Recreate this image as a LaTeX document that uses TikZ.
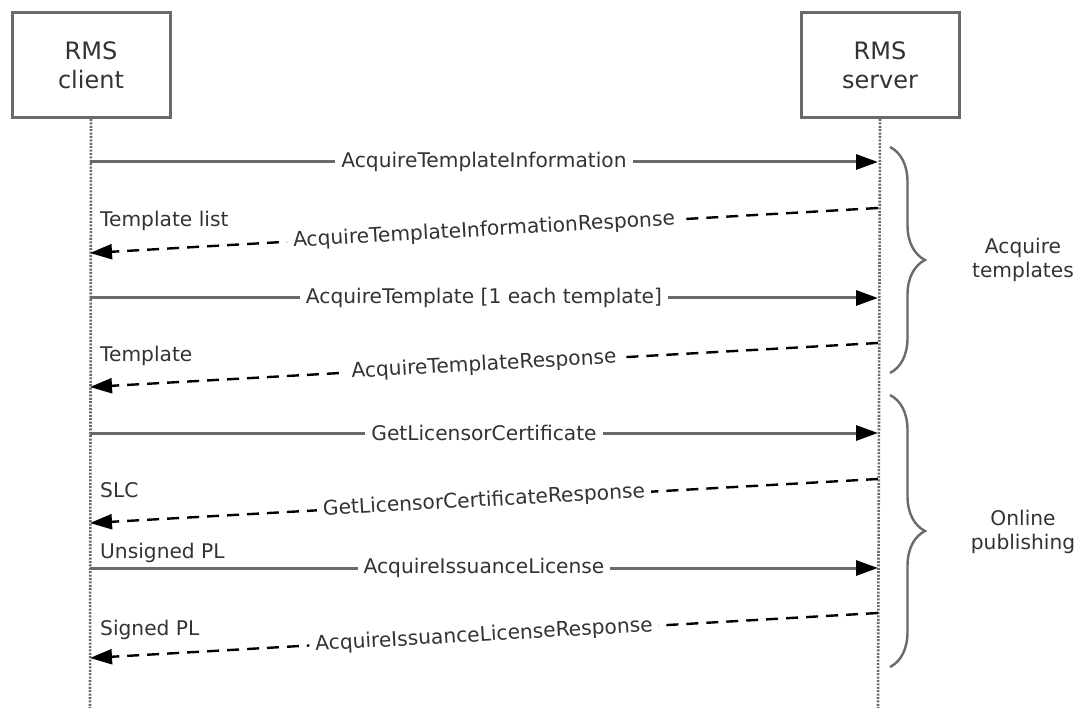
\documentclass[tikz,border=0pt]{standalone}
\usepackage{fontspec}
\setmainfont{DejaVu Sans}
\usetikzlibrary{arrows.meta,decorations.pathreplacing}
\def\msgfont{\fontsize{20.2}{24}\selectfont}
\def\boxfont{\fontsize{24}{29}\selectfont}
\definecolor{linegray}{HTML}{6A6A6A}
\definecolor{textgray}{HTML}{333333}
\tikzset{
    actor/.style={draw=linegray, line width=3pt, fill=white, minimum width=158pt,
        minimum height=105pt, align=center, font=\boxfont, text=textgray},
    lifeline/.style={draw=linegray, line width=2.6pt, dash pattern=on 2pt off 1.4pt},
    call/.style={draw=linegray, line width=3pt,
        -{Triangle[length=22pt,width=15pt,color=black]}},
    reply/.style={draw=black, line width=2.4pt, dash pattern=on 12pt off 8pt,
        -{Triangle[length=22pt,width=15pt,color=black]}},
    lbl/.style={fill=white, font=\msgfont, text=textgray, inner xsep=6pt,
        inner ysep=3pt, sloped},
    note/.style={anchor=base west, font=\msgfont, text=textgray, inner sep=0pt},
    brc/.style={draw=linegray, line width=2.4pt,
        decorate, decoration={brace, amplitude=35pt}},
    group/.style={align=center, font=\msgfont, text=textgray}
}

\begin{document}
\begin{tikzpicture}[x=1pt,y=-1pt]
    \useasboundingbox (0,0) rectangle (1076,708);
    % participants
    \node[actor] (client) at (91,65) {RMS\\client};
    \node[actor] (server) at (880,65) {RMS\\server};
    \coordinate (clientend) at (90,708);
    \coordinate (serverend) at (878,708);
    \draw[lifeline] (client.south) -- (clientend);
    \draw[lifeline] (server.south) -- (serverend);
    % message end points
    \coordinate (c1) at (90,162);  \coordinate (s1) at (878,162);
    \coordinate (s2) at (878,208); \coordinate (c2) at (90,253);
    \coordinate (c3) at (90,298);  \coordinate (s3) at (878,298);
    \coordinate (s4) at (878,343); \coordinate (c4) at (90,387);
    \coordinate (c5) at (90,433);  \coordinate (s5) at (878,433);
    \coordinate (s6) at (878,479); \coordinate (c6) at (90,523);
    \coordinate (c7) at (90,568);  \coordinate (s7) at (878,568);
    \coordinate (s8) at (878,613); \coordinate (c8) at (90,658);
    % acquire templates
    \draw[call] (c1) -- node[lbl] {AcquireTemplateInformation} (s1);
    \draw[reply] (s2) -- node[lbl] {AcquireTemplateInformationResponse} (c2);
    \node[note] (tlist) at (100,227) {Template list};
    \draw[call] (c3) -- node[lbl] {AcquireTemplate [1 each template]} (s3);
    \draw[reply] (s4) -- node[lbl] {AcquireTemplateResponse} (c4);
    \node[note] (tmpl) at (100,362) {Template};
    % online publishing
    \draw[call] (c5) -- node[lbl] {GetLicensorCertificate} (s5);
    \draw[reply] (s6) -- node[lbl] {GetLicensorCertificateResponse} (c6);
    \node[note] (slc) at (100,497) {SLC};
    \draw[call] (c7) -- node[lbl] {AcquireIssuanceLicense} (s7);
    \node[note] (upl) at (100,558) {Unsigned PL};
    \draw[reply] (s8) -- node[lbl] {AcquireIssuanceLicenseResponse} (c8);
    \node[note] (spl) at (100,635) {Signed PL};
    % groups
    \coordinate (g1top) at (890,147); \coordinate (g1bot) at (890,373);
    \coordinate (g2top) at (890,395); \coordinate (g2bot) at (890,667);
    \draw[brc] (g1top) -- (g1bot);
    \draw[brc] (g2top) -- (g2bot);
    \node[group] (acq) at (1023,260) {Acquire\\templates};
    \node[group] (pub) at (1023,532) {Online\\publishing};
\end{tikzpicture}
\end{document}
